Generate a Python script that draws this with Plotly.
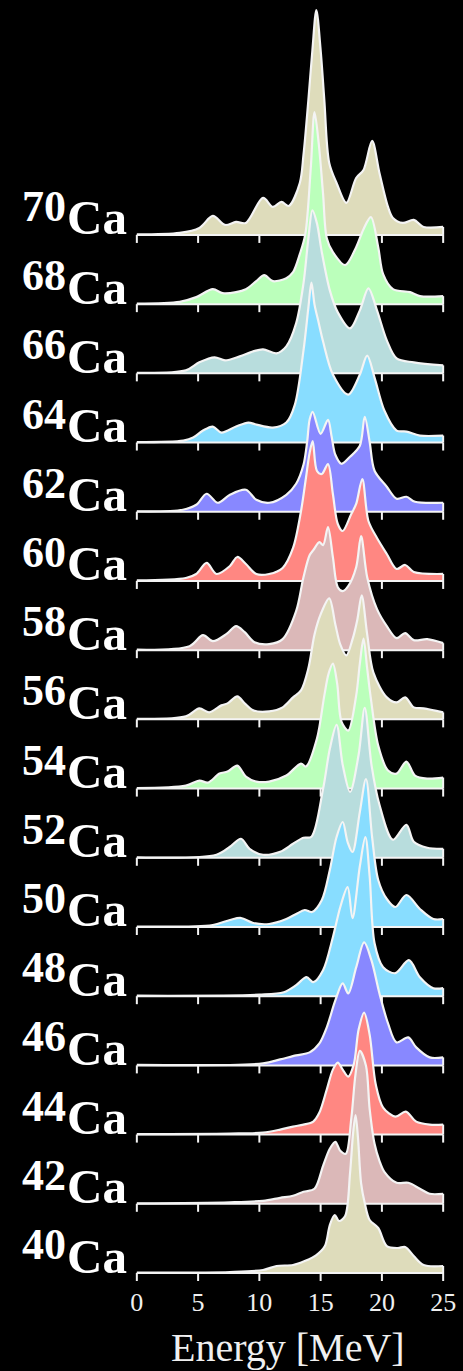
import plotly.graph_objects as go

# ---------------- data (strength in arbitrary units, energy in MeV) ----------------
ISOTOPES = [40, 42, 44, 46, 48, 50, 52, 54, 56, 58, 60, 62, 64, 66, 68, 70]
TICKS = [0, 5, 10, 15, 20, 25]

E_70 = [0, 3.5, 5.1, 6.2, 7.2, 8.1, 8.9, 10.3, 11.1, 11.8, 12.4, 13.3, 13.6, 14.0, 14.33, 14.65, 15.0, 15.3, 15.7, 16.3, 17.1, 17.9, 18.5, 19.2, 19.8, 20.5, 20.9, 21.7, 22.6, 23.4, 25]
S_70 = [0.5, 2, 7, 19, 10, 13, 12, 37, 28, 33, 29, 52, 80, 135, 185, 225, 185, 135, 72, 52, 32, 57, 65, 94, 62, 28, 17, 12, 15, 8, 8]

E_68 = [0, 3.5, 4.85, 6.2, 7.0, 8.1, 8.9, 9.75, 10.4, 11.1, 12.2, 12.75, 13.3, 13.75, 14.2, 14.5, 14.85, 15.2, 15.5, 16.0, 17.0, 17.9, 18.5, 19.1, 19.7, 20.1, 20.9, 22.3, 23.1, 25]
S_68 = [0.5, 2.3, 7, 15, 11, 12, 15, 23, 29, 23, 26, 32, 50, 70, 137, 192, 160, 110, 66, 52, 39, 57, 75, 87, 57, 30, 15, 12, 8, 8]

E_66 = [0, 4.0, 5.1, 6.35, 7.2, 8.4, 9.5, 10.3, 11.4, 12.2, 13.0, 13.6, 14.0, 14.33, 14.7, 15.07, 15.75, 16.4, 17.4, 18.2, 18.9, 19.6, 20.4, 21.2, 22.6, 25]
S_66 = [0.5, 3, 11, 16, 13, 17, 22, 24, 20, 27, 50, 90, 135, 163, 150, 123, 83, 61, 45, 63, 85, 63, 33, 15, 11, 8]

E_64 = [0, 3.8, 4.6, 5.4, 6.2, 6.9, 8.1, 9.1, 9.75, 11.1, 12.2, 12.9, 13.6, 14.0, 14.25, 14.5, 14.8, 15.2, 16.0, 17.25, 18.2, 18.8, 19.4, 20.2, 21.2, 22.0, 23.1, 25]
S_64 = [0.5, 2, 5, 12, 16, 10, 16, 20, 18, 15, 20, 38, 92, 135, 160, 138, 122, 101, 68, 48, 68, 87, 65, 32, 12, 11, 7, 7]

E_62 = [0, 3.76, 4.85, 5.7, 6.6, 7.6, 8.9, 9.75, 10.8, 12.2, 13.0, 13.6, 13.9, 14.1, 14.35, 15.0, 15.6, 15.9, 16.2, 16.7, 17.4, 18.2, 18.6, 19.0, 19.4, 20.4, 21.2, 22.0, 22.7, 25]
S_62 = [0.5, 2, 7, 18, 9, 17, 22, 12, 9, 17, 28, 47, 70, 92, 100, 78, 92, 75, 57, 48, 55, 66, 95, 70, 41, 25, 13, 15, 10, 9]

E_60 = [0, 4.0, 4.85, 5.7, 6.5, 7.6, 8.2, 8.9, 9.75, 10.8, 11.9, 12.75, 13.4, 13.8, 14.1, 14.35, 14.7, 15.1, 15.6, 16.0, 16.4, 16.8, 17.5, 17.9, 18.4, 18.9, 19.6, 20.4, 21.2, 21.9, 22.6, 25]
S_60 = [0.5, 3, 7, 18, 7, 15, 24, 17, 7, 7, 13, 33, 70, 103, 128, 140, 110, 107, 117, 87, 57, 50, 67, 77, 102, 60, 43, 27, 12, 16, 9, 7]

E_58 = [0, 4.3, 5.4, 6.2, 7.3, 8.1, 8.8, 9.6, 10.8, 11.9, 13.0, 13.6, 14.1, 14.4, 14.9, 15.2, 15.6, 16.0, 16.4, 16.8, 17.25, 17.9, 18.3, 18.8, 19.6, 20.4, 21.2, 21.9, 22.6, 23.7, 25]
S_58 = [0.5, 4, 15, 9, 16, 24, 18, 8, 6, 11, 39, 73, 95, 100, 108, 105, 123, 93, 63, 59, 64, 83, 114, 73, 41, 24, 12, 17, 10, 11, 7]

E_56 = [0, 4.0, 5.1, 5.9, 6.9, 7.4, 8.2, 8.8, 9.5, 10.8, 11.9, 12.75, 13.4, 14.0, 14.5, 15.0, 15.7, 16.2, 16.6, 17.1, 17.6, 18.0, 18.35, 18.8, 19.3, 20.4, 21.2, 21.9, 22.6, 23.4, 25]
S_56 = [0.5, 3, 11, 7, 14, 16, 23, 16, 9, 8, 12, 22, 29, 51, 85, 105, 121, 95, 75, 64, 80, 100, 124, 85, 47, 22, 17, 22, 12, 11, 7]

E_54 = [0, 4.0, 5.1, 5.8, 6.75, 7.4, 8.2, 8.9, 9.75, 10.8, 12.2, 13.4, 13.8, 14.7, 15.3, 15.65, 16.0, 16.35, 16.7, 17.25, 17.9, 18.2, 18.5, 18.8, 19.1, 19.7, 20.5, 21.2, 22.0, 22.7, 23.7, 25]
S_54 = [0.5, 3, 8, 6, 15, 17, 23, 12, 7, 7, 13, 25, 22, 50, 93, 115, 125, 105, 67, 58, 93, 125, 150, 120, 90, 43, 18, 15, 27, 13, 10, 11]

E_52 = [0, 6.5, 7.6, 8.5, 9.2, 10.3, 11.7, 12.75, 13.6, 14.25, 15.2, 15.75, 16.3, 16.8, 17.4, 18.1, 18.6, 19.15, 19.8, 20.9, 22.0, 22.6, 23.7, 25]
S_52 = [0.5, 3, 11, 19, 9, 3, 6, 14, 20, 21, 69, 109, 133, 93, 66, 103, 150, 93, 53, 18, 33, 16, 10, 9]

E_50 = [0, 6.2, 7.6, 8.5, 9.5, 10.8, 12.2, 13.0, 13.7, 14.3, 15.1, 15.75, 16.3, 16.8, 17.2, 17.6, 18.2, 18.7, 19.2, 19.7, 20.4, 21.1, 22.0, 23.1, 24.2, 25]
S_50 = [0.5, 2, 7, 9, 4, 3, 8, 13, 17, 15, 27, 57, 90, 105, 85, 75, 115, 148, 90, 47, 28, 20, 32, 18, 8, 8]

E_48 = [0, 10.0, 12.0, 13.0, 13.85, 14.4, 15.2, 16.0, 16.6, 17.2, 17.6, 18.2, 18.65, 19.0, 19.4, 20.1, 21.1, 22.2, 23.1, 24.2, 25]
S_48 = [0.5, 1.5, 4, 11, 19, 14, 26, 59, 89, 109, 78, 130, 159, 120, 53, 29, 23, 36, 19, 8, 8]

E_46 = [0, 10.3, 11.7, 13.0, 14.1, 14.9, 15.5, 16.2, 16.8, 17.25, 17.9, 18.55, 19.15, 19.8, 20.5, 21.2, 22.15, 22.8, 23.9, 25]
S_46 = [0.5, 2, 6, 10, 13, 22, 38, 65, 82, 72, 98, 123, 105, 72, 42, 23, 28, 18, 8, 8]

E_44 = [0, 7.6, 10.3, 11.7, 12.75, 13.6, 14.4, 14.9, 15.5, 16.0, 16.4, 16.8, 17.25, 17.7, 18.1, 18.55, 19.0, 19.5, 20.1, 21.1, 21.95, 22.8, 23.9, 25]
S_44 = [0.5, 1, 2, 5, 8, 10, 13, 22, 45, 65, 72, 65, 58, 70, 105, 122, 100, 50, 27, 18, 23, 13, 10, 10]

E_42 = [0, 7.6, 10.3, 11.7, 12.75, 13.6, 14.5, 15.2, 15.75, 16.2, 16.6, 17.05, 17.5, 17.85, 18.2, 18.7, 19.0, 19.4, 19.8, 20.2, 21.2, 22.15, 23.1, 23.9, 25]
S_42 = [0.5, 1.5, 3, 6, 8, 12, 15, 38, 55, 62, 53, 50, 85, 130, 153, 138, 95, 60, 43, 32, 21, 21, 15, 10, 10]

E_40 = [0, 7.6, 10.3, 11.4, 12.75, 13.7, 14.65, 15.35, 15.75, 16.15, 16.5, 17.0, 17.4, 17.65, 17.85, 18.05, 18.3, 18.6, 19.0, 19.7, 20.4, 21.3, 21.9, 22.6, 23.4, 25]
S_40 = [0.5, 1, 3, 7, 8, 12, 18, 27, 48, 58, 52, 57, 100, 140, 158, 135, 90, 70, 53, 45, 27, 25, 26, 17, 8, 7]

SERIES = {
    40: (E_40, S_40), 42: (E_42, S_42), 44: (E_44, S_44), 46: (E_46, S_46),
    48: (E_48, S_48), 50: (E_50, S_50), 52: (E_52, S_52), 54: (E_54, S_54),
    56: (E_56, S_56), 58: (E_58, S_58), 60: (E_60, S_60), 62: (E_62, S_62),
    64: (E_64, S_64), 66: (E_66, S_66), 68: (E_68, S_68), 70: (E_70, S_70),
}

# ---------------- styles ----------------
KHAKI, ROSY, RED, PURPLE = "#dedcbb", "#dbb8b8", "#ff8782", "#8888ff"
LBLUE, GCYAN, GREEN = "#88ddff", "#b8dddd", "#bbffbb"
FILL = {40: KHAKI, 42: ROSY, 44: RED, 46: PURPLE, 48: LBLUE, 50: LBLUE,
        52: GCYAN, 54: GREEN, 56: KHAKI, 58: ROSY, 60: RED, 62: PURPLE,
        64: LBLUE, 66: GCYAN, 68: GREEN, 70: KHAKI}

W, H = 463, 1371
SPACING = 69.22          # vertical offset between ridges (same units as strength)
TICK_LEN = 8
X0_PX, PX_PER_MEV = 137.3, 12.24
XR = [-0.15, 25.15]
YR = [-10, 15 * SPACING + 235]
ML = X0_PX + XR[0] * PX_PER_MEV
MR = W - (X0_PX + XR[1] * PX_PER_MEV)
MT = 0
MB = H - (YR[1] - YR[0])
PLOT_W = W - ML - MR

SERIF = "Liberation Serif, Times New Roman, serif"
LINE_COL = "#f4f4f4"


def px_to_paper(px):
    return (px - ML) / PLOT_W


fig = go.Figure()

for iso in sorted(ISOTOPES, reverse=True):
    idx = ISOTOPES.index(iso)
    off = idx * SPACING
    E, S = SERIES[iso]
    # invisible baseline for the fill
    fig.add_trace(go.Scatter(x=[TICKS[0], TICKS[-1]], y=[off, off], mode="lines",
                             line=dict(width=0, color="rgba(0,0,0,0)"),
                             hoverinfo="skip", showlegend=False))
    # curve
    fig.add_trace(go.Scatter(x=E, y=[off + s for s in S], mode="lines",
                             line=dict(color=LINE_COL, width=2.2, shape="spline", smoothing=0.9),
                             fill="tonexty", fillcolor=FILL[iso],
                             hoverinfo="skip", showlegend=False))
    # axis line, ticks and closing edge at the right end
    ax_x, ax_y = [TICKS[0], TICKS[-1], None], [off, off, None]
    for t in TICKS:
        ax_x += [t, t, None]
        ax_y += [off, off - TICK_LEN, None]
    ax_x += [E[-1], E[-1]]
    ax_y += [off, off + S[-1]]
    fig.add_trace(go.Scatter(x=ax_x, y=ax_y, mode="lines",
                             line=dict(color=LINE_COL, width=2),
                             hoverinfo="skip", showlegend=False, cliponaxis=False))

    # isotope label
    fig.add_annotation(x=px_to_paper(66), y=off, xref="paper", yref="y", text="Ca",
                       xanchor="left", yanchor="bottom", yshift=-12.5, showarrow=False,
                       font=dict(family=SERIF, size=49, color="white", weight="bold"))
    fig.add_annotation(x=px_to_paper(69), y=off, xref="paper", yref="y", text=str(iso),
                       xanchor="right", yanchor="bottom", yshift=2, showarrow=False,
                       font=dict(family=SERIF, size=44, color="white", weight="bold"))

fig.add_annotation(x=px_to_paper(288), y=0, xref="paper", yref="paper", text="Energy [MeV]",
                   xanchor="center", yanchor="top", yshift=-40, showarrow=False,
                   font=dict(family=SERIF, size=40, color="#f0f0f0"))

fig.update_xaxes(range=XR, tickvals=TICKS, ticktext=[str(t) for t in TICKS],
                 ticks="", showgrid=False, zeroline=False, showline=False,
                 tickfont=dict(family=SERIF, size=26, color="#f0f0f0"),
                 ticklabelstandoff=1)
fig.update_yaxes(range=YR, visible=False, showgrid=False, zeroline=False)

fig.update_layout(width=W, height=H, margin=dict(l=ML, r=MR, t=MT, b=MB, pad=0),
                  paper_bgcolor="black", plot_bgcolor="black", showlegend=False)

fig.write_html("out.html", config={"displayModeBar": False},
               post_script="document.body.style.margin='0';document.body.style.background='black';")
